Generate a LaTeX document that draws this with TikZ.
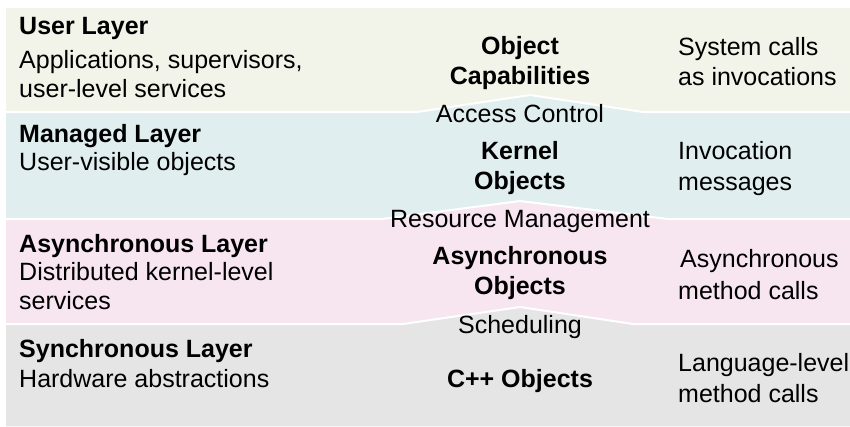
\documentclass[tikz,border=0pt]{standalone}
\usepackage{fontspec}
\setmainfont{Liberation Sans}
\begin{document}
\begin{tikzpicture}[x=1pt,y=-1pt,
  txt/.style={inner sep=0pt, font=\fontsize{25}{30}\selectfont},
  lefttxt/.style={txt, anchor=base west},
  midtxt/.style={txt, anchor=base},
  title/.style={lefttxt, font=\fontsize{25}{30}\selectfont\bfseries},
  midtitle/.style={midtxt, font=\fontsize{25}{30}\selectfont\bfseries},
  seam/.style={draw=white, line width=2pt, line join=miter}
]
\definecolor{userband}{RGB}{243,244,233}
\definecolor{managedband}{RGB}{224,238,239}
\definecolor{asyncband}{RGB}{247,229,239}
\definecolor{syncband}{RGB}{229,229,229}

\useasboundingbox[fill=white] (0,0) rectangle (850,426);

% layer bands, each one laid over the one above it
\fill[userband] (6,8) rectangle (850,426);
\fill[managedband] (6,112) -- (417,112) -- (530,95) -- (643,112) -- (850,112)
  -- (850,426) -- (6,426) -- cycle;
\fill[asyncband] (6,219) -- (382,219) -- (520,201) -- (668,219) -- (850,219)
  -- (850,426) -- (6,426) -- cycle;
\fill[syncband] (6,324) -- (403,324) -- (520,307) -- (633,324) -- (850,324)
  -- (850,426) -- (6,426) -- cycle;

% white seams between the bands
\draw[seam] (6,112) -- (417,112) -- (530,95) -- (643,112) -- (850,112);
\draw[seam] (6,219) -- (382,219) -- (520,201) -- (668,219) -- (850,219);
\draw[seam] (6,324) -- (403,324) -- (520,307) -- (633,324) -- (850,324);

% left column: layer names and descriptions
\node[title]    (userT)  at (19,34)  {User Layer};
\node[lefttxt]  (userA)  at (19,68)  {Applications, supervisors,};
\node[lefttxt]  (userB)  at (19,97)  {user-level services};
\node[title]    (manT)   at (19,142) {Managed Layer};
\node[lefttxt]  (manA)   at (19,170) {User-visible objects};
\node[title]    (asyT)   at (19,252) {Asynchronous Layer};
\node[lefttxt]  (asyA)   at (19,280) {Distributed kernel-level};
\node[lefttxt]  (asyB)   at (19,309) {services};
\node[title]    (synT)   at (19,357) {Synchronous Layer};
\node[lefttxt]  (synA)   at (19,387) {Hardware abstractions};

% middle column: object kinds and the boundaries between them
\node[midtitle] (capA)   at (520,54)  {Object};
\node[midtitle] (capB)   at (520,84)  {Capabilities};
\node[midtxt]   (acc)    at (520,122) {Access Control};
\node[midtitle] (kerA)   at (520,159) {Kernel};
\node[midtitle] (kerB)   at (520,189) {Objects};
\node[midtxt]   (res)    at (520,227) {Resource Management};
\node[midtitle] (aobA)   at (520,264) {Asynchronous};
\node[midtitle] (aobB)   at (520,294) {Objects};
\node[midtxt]   (sch)    at (520,333) {Scheduling};
\node[midtitle] (cpp)    at (520,387) {C++ Objects};

% right column: how each layer is called
\node[lefttxt]  (sysA)   at (678,55)  {System calls};
\node[lefttxt]  (sysB)   at (678,85)  {as invocations};
\node[lefttxt]  (invA)   at (678,159) {Invocation};
\node[lefttxt]  (invB)   at (678,190) {messages};
\node[lefttxt]  (amcA)   at (680,267) {Asynchronous};
\node[lefttxt]  (amcB)   at (678,299) {method calls};
\node[lefttxt]  (lmcA)   at (678,371) {Language-level};
\node[lefttxt]  (lmcB)   at (678,402) {method calls};
\end{tikzpicture}
\end{document}
